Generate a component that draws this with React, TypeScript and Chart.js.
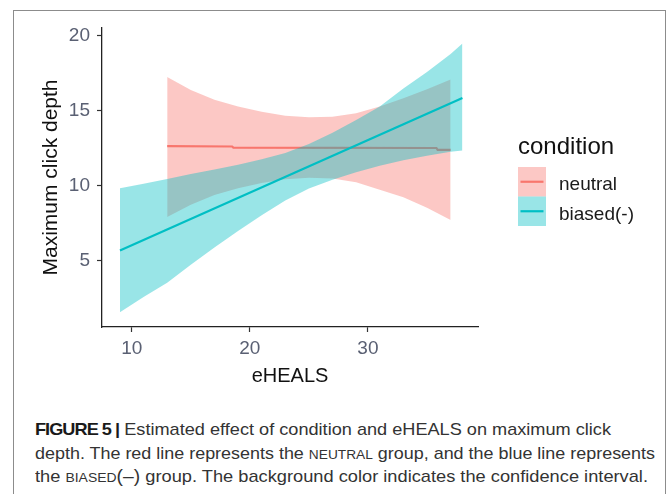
import React, { useEffect, useRef, useLayoutEffect } from "react";
import { Chart, registerables } from "chart.js";

Chart.register(...registerables);

// ---------- data ----------
const xTicks = [10, 20, 30];
const yTicks = [5, 10, 15, 20];

const neutralLineX = [13, 18.5, 18.6, 35.8, 35.9, 37];
const neutralLineY = [12.66, 12.63, 12.56, 12.53, 12.41, 12.4];

const neutralBandX = [13, 15, 17, 19, 21, 23, 25, 27, 29, 31, 33, 35, 37];
const neutralUpper = [17.27, 16.4, 15.75, 15.3, 14.95, 14.68, 14.58, 14.62, 14.85, 15.3, 15.85, 16.45, 17.1];
const neutralLower = [7.93, 8.75, 9.4, 9.85, 10.2, 10.45, 10.55, 10.5, 10.25, 9.75, 9.25, 8.55, 7.73];

const biasedLineX = [9, 38];
const biasedLineY = [5.7, 15.87];

const biasedBandX = [9, 11, 13, 15, 17, 19, 21, 23, 25, 27, 29, 31, 33, 35, 37, 38];
const biasedUpper = [9.85, 10.15, 10.47, 10.8, 11.1, 11.42, 11.78, 12.2, 12.8, 13.55, 14.4, 15.3, 16.5, 17.6, 18.8, 19.5];
const biasedLower = [1.58, 2.6, 3.55, 4.75, 5.9, 7.0, 8.05, 9.03, 9.84, 10.42, 10.92, 11.35, 11.72, 12.02, 12.28, 12.36];

const legendTitle = "condition";
const legendLabels = ["neutral", "biased(-)"];

const xTitle = "eHEALS";
const yTitle = "Maximum click depth";

// ---------- styles ----------
const RED = "#F8766D";
const CYAN = "#00BFC4";
const RED_FILL = "rgba(248,118,109,0.4)";
const CYAN_FILL = "rgba(0,191,196,0.4)";
const FONT = '"Liberation Sans", Arial, sans-serif';

const pts = (xs: number[], ys: number[]) => xs.map((x, i) => ({ x, y: ys[i] }));

const ggLegend = {
  id: "ggLegend",
  afterDraw(chart: any) {
    const ctx = chart.ctx as CanvasRenderingContext2D;
    ctx.save();
    ctx.textBaseline = "alphabetic";
    ctx.textAlign = "left";
    ctx.fillStyle = "#111111";
    ctx.font = `24px ${FONT}`;
    ctx.fillText(legendTitle, 518, 153.5);
    const fills = [RED_FILL, CYAN_FILL];
    const lines = [RED, CYAN];
    legendLabels.forEach((lab, i) => {
      const y0 = 167 + i * 29.5;
      ctx.fillStyle = fills[i];
      ctx.fillRect(518, y0, 28, 29.5);
      ctx.strokeStyle = lines[i];
      ctx.lineWidth = 2.2;
      ctx.beginPath();
      ctx.moveTo(520.5, y0 + 14.75);
      ctx.lineTo(543.5, y0 + 14.75);
      ctx.stroke();
      ctx.fillStyle = "#1a1a1a";
      ctx.font = `19px ${FONT}`;
      ctx.fillText(lab, 559, y0 + 23);
    });
    ctx.restore();
  },
};

function ChartBox() {
  const ref = useRef<HTMLCanvasElement | null>(null);
  useEffect(() => {
    if (!ref.current) return;
    Chart.defaults.font.family = FONT;
    const tickColor = "#5a6073";
    const chart = new Chart(ref.current, {
      type: "line",
      data: {
        datasets: [
          {
            label: "neutral-upper",
            data: pts(neutralBandX, neutralUpper),
            borderColor: "rgba(0,0,0,0)",
            borderWidth: 0,
            backgroundColor: RED_FILL,
            fill: 1,
            pointRadius: 0,
            order: 3,
          },
          {
            label: "neutral-lower",
            data: pts(neutralBandX, neutralLower),
            borderColor: "rgba(0,0,0,0)",
            borderWidth: 0,
            fill: false,
            pointRadius: 0,
            order: 3,
          },
          {
            label: "neutral",
            data: pts(neutralLineX, neutralLineY),
            borderColor: RED,
            borderWidth: 2.2,
            fill: false,
            pointRadius: 0,
            order: 2,
          },
          {
            label: "biased-upper",
            data: pts(biasedBandX, biasedUpper),
            borderColor: "rgba(0,0,0,0)",
            borderWidth: 0,
            backgroundColor: CYAN_FILL,
            fill: 4,
            pointRadius: 0,
            order: 1,
          },
          {
            label: "biased-lower",
            data: pts(biasedBandX, biasedLower),
            borderColor: "rgba(0,0,0,0)",
            borderWidth: 0,
            fill: false,
            pointRadius: 0,
            order: 1,
          },
          {
            label: "biased(-)",
            data: pts(biasedLineX, biasedLineY),
            borderColor: CYAN,
            borderWidth: 2.2,
            fill: false,
            pointRadius: 0,
            order: 0,
          },
        ],
      },
      options: {
        responsive: false,
        animation: false,
        events: [],
        layout: { padding: { left: 0, right: 192, top: 28, bottom: 0 } },
        plugins: {
          legend: { display: false },
          tooltip: { enabled: false },
          filler: { propagate: false },
        },
        scales: {
          x: {
            type: "linear",
            min: 7.48,
            max: 39.32,
            afterBuildTicks: (s: any) => {
              s.ticks = xTicks.map((v) => ({ value: v }));
            },
            afterFit: (s: any) => {
              s.height = 73;
            },
            grid: {
              display: true,
              drawOnChartArea: false,
              drawTicks: true,
              tickLength: 5,
              tickColor: "#333333",
              tickWidth: 1.2,
            },
            border: { display: true, color: "#222222", width: 1.3 },
            ticks: {
              color: tickColor,
              font: { size: 19 },
              padding: 5,
              maxRotation: 0,
              callback: (v: any) => String(v),
            },
            title: {
              display: true,
              text: xTitle,
              color: "#111111",
              font: { size: 20 },
              padding: { top: 0, bottom: 12 },
            },
          },
          y: {
            type: "linear",
            min: 0.6,
            max: 20.53,
            afterBuildTicks: (s: any) => {
              s.ticks = yTicks.map((v) => ({ value: v }));
            },
            afterFit: (s: any) => {
              s.width = 102;
            },
            grid: {
              display: true,
              drawOnChartArea: false,
              drawTicks: true,
              tickLength: 5,
              tickColor: "#333333",
              tickWidth: 1.2,
            },
            border: { display: true, color: "#222222", width: 1.3 },
            ticks: {
              color: tickColor,
              font: { size: 19 },
              padding: 7,
              callback: (v: any) => String(v),
            },
            title: {
              display: true,
              text: yTitle,
              color: "#111111",
              font: { size: 21 },
              padding: { top: 39, bottom: 0 },
            },
          },
        },
      },
      plugins: [ggLegend],
    } as any);
    return () => chart.destroy();
  }, []);
  return <canvas ref={ref} width={670} height={400} style={{ position: "absolute", left: 0, top: 0, width: 670, height: 400 }} />;
}

const captionTargets = [576, 620, 613];

function Caption() {
  const refs = [useRef<HTMLDivElement | null>(null), useRef<HTMLDivElement | null>(null), useRef<HTMLDivElement | null>(null)];
  useLayoutEffect(() => {
    refs.forEach((r, i) => {
      const el = r.current;
      if (!el) return;
      el.style.transform = "none";
      const w = el.getBoundingClientRect().width;
      if (w > 0) el.style.transform = `scaleX(${captionTargets[i] / w})`;
    });
  }, []);
  const lineStyle: React.CSSProperties = {
    display: "inline-block",
    whiteSpace: "nowrap",
    transformOrigin: "0 50%",
  };
  const sc: React.CSSProperties = { fontVariant: "small-caps", fontSize: 18 };
  return (
    <div
      style={{
        position: "absolute",
        left: 35,
        top: 418,
        fontFamily: FONT,
        fontSize: 17,
        lineHeight: "23.5px",
        color: "#333333",
      }}
    >
      <div style={{ height: 23.5 }}>
        <div ref={refs[0]} style={lineStyle}>
          <b style={{ color: "#1a1a1a", letterSpacing: "-0.9px" }}>FIGURE 5 |</b> Estimated effect of condition and eHEALS on maximum click
        </div>
      </div>
      <div style={{ height: 23.5 }}>
        <div ref={refs[1]} style={lineStyle}>
          depth. The red line represents the <span style={sc}>neutral</span> group, and the blue line represents
        </div>
      </div>
      <div style={{ height: 23.5 }}>
        <div ref={refs[2]} style={lineStyle}>
          the <span style={sc}>biased(–)</span> group. The background color indicates the confidence interval.
        </div>
      </div>
    </div>
  );
}

export default function App() {
  return (
    <div
      style={{
        position: "fixed",
        left: 0,
        top: 0,
        width: 670,
        height: 494,
        background: "#ffffff",
        overflow: "hidden",
      }}
    >
      <div
        style={{
          position: "absolute",
          left: 13,
          top: 10,
          width: 653,
          height: 520,
          border: "1.5px solid #8c8c8c",
          boxSizing: "border-box",
        }}
      />
      <ChartBox />
      <Caption />
    </div>
  );
}
